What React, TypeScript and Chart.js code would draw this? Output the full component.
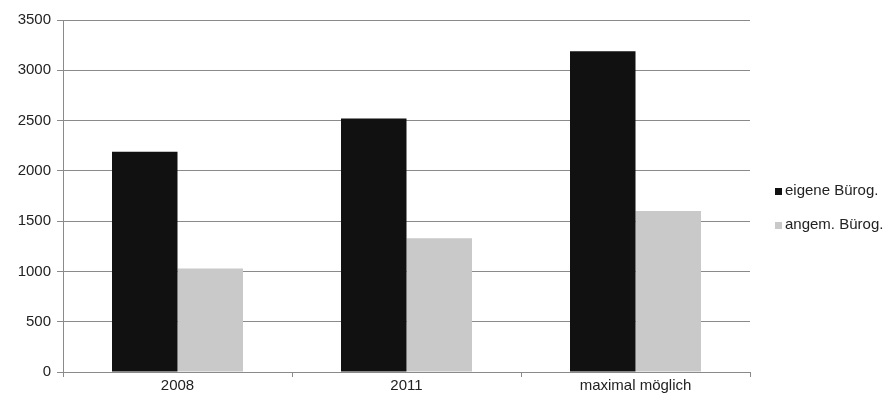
import React, { useEffect, useRef } from "react";
import { Chart, registerables } from "chart.js";

Chart.register(...registerables);

const categories = ["2008", "2011", "maximal möglich"];
const seriesLabels = ["eigene Bürog.", "angem. Bürog."];
const eigeneValues = [2190, 2520, 3190];
const angemValues = [1030, 1330, 1600];
const yMin = 0;
const yMax = 3500;
const yStep = 500;

const FONT = '"Liberation Sans", Arial, sans-serif';
const FONT_SIZE = 15;

const legendPlugin = {
  id: "sideLegend",
  afterDraw(chart: any) {
    const ctx = chart.ctx as CanvasRenderingContext2D;
    ctx.save();
    chart.data.datasets.forEach((ds: any, i: number) => {
      const y = 191 + i * 34;
      ctx.fillStyle = ds.backgroundColor;
      ctx.fillRect(775, y - 3, 7, 7);
      ctx.fillStyle = "#222";
      ctx.font = `${FONT_SIZE}px ${FONT}`;
      ctx.textBaseline = "middle";
      ctx.textAlign = "left";
      ctx.fillText(ds.label, 785, y);
    });
    ctx.restore();
  },
};

export default function App() {
  const ref = useRef<HTMLCanvasElement | null>(null);
  useEffect(() => {
    if (!ref.current) return;
    const chart = new Chart(ref.current, {
      type: "bar",
      data: {
        labels: categories,
        datasets: [
          { label: seriesLabels[0], data: eigeneValues, backgroundColor: "#111111" },
          { label: seriesLabels[1], data: angemValues, backgroundColor: "#c9c9c9" },
        ],
      },
      options: {
        animation: false,
        responsive: true,
        maintainAspectRatio: false,
        layout: { padding: { top: 20, right: 138, left: 0, bottom: 0 } },
        datasets: { bar: { categoryPercentage: 0.572, barPercentage: 1.0 } },
        plugins: { legend: { display: false }, tooltip: { enabled: false } },
        scales: {
          x: {
            afterFit: (s: any) => { s.height = 29; },
            grid: { offset: true, drawOnChartArea: false, drawTicks: true, tickLength: 5, color: "#8a8a8a" },
            border: { display: true, color: "#8a8a8a" },
            ticks: { color: "#222", font: { family: FONT, size: FONT_SIZE }, padding: 0 },
          },
          y: {
            min: yMin,
            max: yMax,
            afterFit: (s: any) => { s.width = 63; },
            grid: { color: "#8a8a8a", tickLength: 6, drawTicks: true },
            border: { display: true, color: "#8a8a8a" },
            ticks: {
              stepSize: yStep,
              color: "#222",
              font: { family: FONT, size: FONT_SIZE },
              padding: 6,
              callback: (v: any) => String(v),
            },
          },
        },
      },
      plugins: [legendPlugin],
    });
    return () => chart.destroy();
  }, []);
  return (
    <div style={{ position: "fixed", left: 0, top: 0, width: 888, height: 401, background: "#fff" }}>
      <canvas ref={ref} />
    </div>
  );
}
